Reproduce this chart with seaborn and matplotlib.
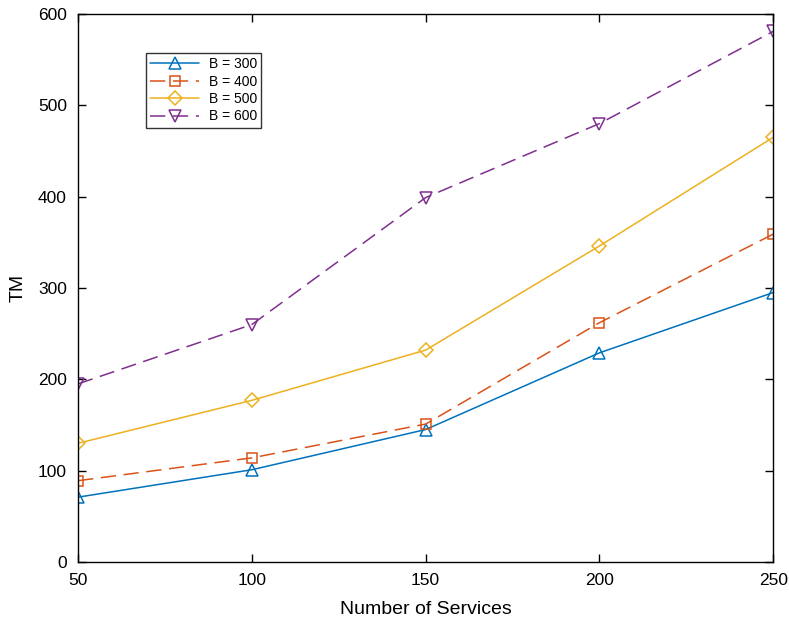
import pandas as pd
import matplotlib
matplotlib.use('Agg')
import matplotlib.pyplot as plt
from matplotlib.lines import Line2D
import seaborn as sns

# данные
services = [50, 100, 150, 200, 250]
tm_300 = [71, 101, 145, 229, 295]
tm_400 = [89, 114, 151, 262, 359]
tm_500 = [130, 177, 232, 346, 465]
tm_600 = [195, 260, 399, 480, 581]
series_labels = ['B = 300', 'B = 400', 'B = 500', 'B = 600']

rows = []
for label, vals in zip(series_labels, [tm_300, tm_400, tm_500, tm_600]):
    for s, v in zip(services, vals):
        rows.append({'Services': s, 'TM': v, 'B': label})
df = pd.DataFrame(rows)

sns.set_style('ticks')
plt.rcParams['font.family'] = ['Liberation Sans', 'DejaVu Sans']
plt.rcParams['text.color'] = 'black'
plt.rcParams['axes.labelcolor'] = 'black'
plt.rcParams['xtick.color'] = 'black'
plt.rcParams['ytick.color'] = 'black'

palette = ['#0072BD', '#D95319', '#EDB120', '#7E2F8E']
markers = ['^', 's', 'D', 'v']
dashes = ['', (10, 5), '', (10, 5)]
msizes = [8, 7, 7, 8]

fig = plt.figure(figsize=(7.89, 6.22), dpi=100)
ax = fig.add_axes([0.099, 0.0965, 0.881, 0.881])
sns.lineplot(data=df, x='Services', y='TM', hue='B', style='B',
             palette=palette, markers=markers, dashes=dashes,
             markersize=8, markeredgewidth=1.1,
             linewidth=1.1, ax=ax, legend=False)
# полые маркеры
for line, ms in zip(ax.get_lines(), msizes):
    line.set_markerfacecolor('none')
    line.set_markeredgecolor(line.get_color())
    line.set_markersize(ms)

ax.set_xlim(50, 250)
ax.set_ylim(0, 600)
ax.set_xticks(services)
ax.set_yticks(range(0, 601, 100))
ax.tick_params(direction='in', top=True, right=True, labelsize=12.5, length=6, width=1, pad=8)
for sp in ax.spines.values():
    sp.set_visible(True)
    sp.set_linewidth(1)
    sp.set_color('black')
ax.set_xlabel('Number of Services', fontsize=14, labelpad=9)
ax.set_ylabel('TM', fontsize=14, labelpad=8)

# легенда вручную (как в MATLAB)
handles = []
for c, m, d, ms in zip(palette, markers, dashes, msizes):
    ls = (0, d) if d else '-'
    handles.append(Line2D([], [], color=c, marker=m, markersize=ms, markerfacecolor='none',
                          markeredgecolor=c, markeredgewidth=1.1, linewidth=1.1, linestyle=ls))
leg = ax.legend(handles, series_labels, loc='upper left', bbox_to_anchor=(0.098, 0.929),
                borderaxespad=0, fontsize=10, frameon=True, fancybox=False, edgecolor='black',
                handlelength=3.5, borderpad=0.3, labelspacing=0.25, handletextpad=0.7)
leg.get_frame().set_linewidth(1)

plt.savefig('out.png', dpi=100)
